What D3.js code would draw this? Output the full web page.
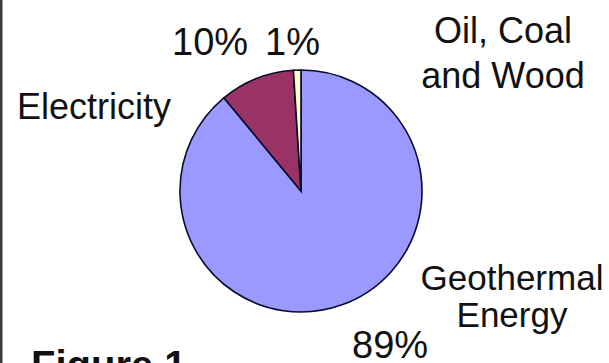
<!DOCTYPE html>
<html>
<head>
<meta charset="utf-8">
<script src="https://cdn.jsdelivr.net/npm/d3@7"></script>
<style>
  html, body { margin: 0; padding: 0; background: #fff; }
  svg { display: block; }
  text { font-family: "Liberation Sans", Arial, sans-serif; fill: #111; }
</style>
</head>
<body>
<svg id="chart" width="609" height="363"></svg>
<script>
// Home heating energy sources (share of total, %)
const categories = ["Geothermal Energy", "Electricity", "Oil, Coal and Wood"];
const values = [89, 10, 1];
const sliceColors = ["#9999FF", "#993366", "#FFFFCC"];
const percentLabels = ["89%", "10%", "1%"];

const width = 609, height = 363;
const svg = d3.select("#chart");

// frame edge on the left
svg.append("rect")
  .attr("x", 0).attr("y", 0)
  .attr("width", 2.5).attr("height", height)
  .attr("fill", "#3a3a3a");

const cx = 301, cy = 191, radius = 121;

const pie = d3.pie().sort(null).value(d => d)
  .startAngle(0).endAngle(2 * Math.PI);
const arc = d3.arc().innerRadius(0).outerRadius(radius);

const color = d3.scaleOrdinal().domain(categories).range(sliceColors);

const g = svg.append("g").attr("transform", `translate(${cx},${cy})`);
g.selectAll("path")
  .data(pie(values))
  .join("path")
  .attr("d", arc)
  .attr("fill", (d, i) => color(categories[i]))
  .attr("stroke", "#0a0a2a")
  .attr("stroke-width", 1.6)
  .attr("stroke-linejoin", "miter");

// category names
const names = [
  { lines: ["Geothermal", "Energy"], x: 512, y: 290, anchor: "middle", size: 35, gap: 37 },
  { lines: ["Electricity"], x: 17, y: 119, anchor: "start", size: 36, gap: 0 },
  { lines: ["Oil, Coal", "and Wood"], x: 503, y: 43, anchor: "middle", size: 36, gap: 45 }
];
names.forEach(n => {
  n.lines.forEach((t, j) => {
    svg.append("text")
      .attr("x", n.x).attr("y", n.y + j * n.gap)
      .attr("text-anchor", n.anchor)
      .attr("font-size", n.size)
      .text(t);
  });
});

// percentage labels
const pctPos = [
  { x: 352, y: 358 },
  { x: 172, y: 55 },
  { x: 265, y: 55 }
];
percentLabels.forEach((t, i) => {
  svg.append("text")
    .attr("x", pctPos[i].x).attr("y", pctPos[i].y)
    .attr("font-size", 38)
    .text(t);
});

// caption
svg.append("text")
  .attr("x", 31).attr("y", 379)
  .attr("font-size", 40)
  .attr("font-weight", "bold")
  .text("Figure 1");
</script>
</body>
</html>
